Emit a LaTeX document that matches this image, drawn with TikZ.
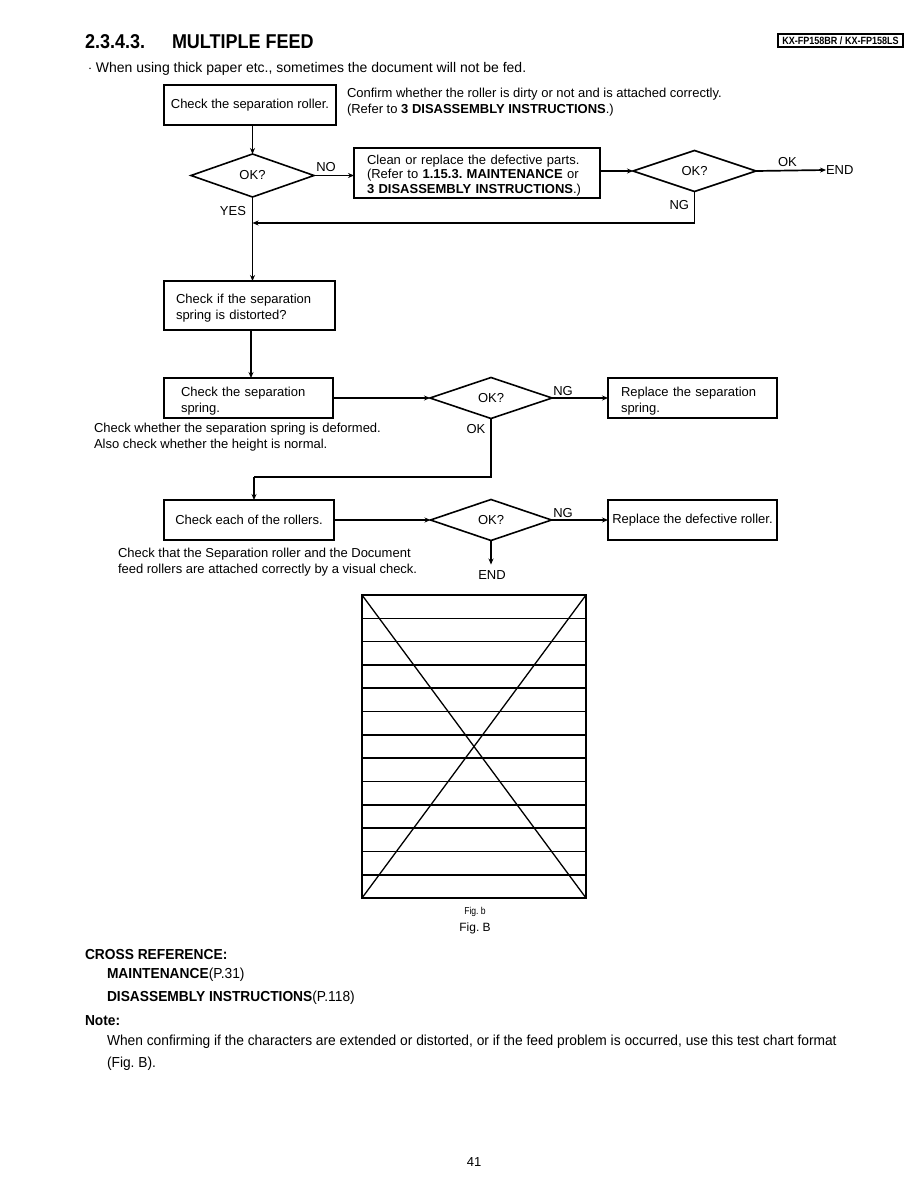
\documentclass[tikz,border=0pt]{standalone}
\usepackage{fontspec}
\setmainfont{Liberation Sans}
\newfontfamily\narrowfont{Liberation Sans}[FakeStretch=0.95]
\newfontfamily\titlefont{Liberation Sans}[FakeStretch=0.9]
\newfontfamily\hdrfont{Liberation Sans}[FakeStretch=0.86]
\usetikzlibrary{shapes.geometric,arrows.meta}
\begin{document}
\begin{tikzpicture}[x=1pt,y=-1pt,
  every node/.style={inner sep=0pt,outer sep=0pt,execute at begin node=\frenchspacing},
  txt/.style={font=\fontsize{13}{15.5}\selectfont,anchor=west,align=left},
  boxnode/.style={draw,line width=1.6pt,font=\fontsize{13}{15.5}\selectfont,align=left},
  dia/.style={draw,diamond,line width=1.6pt,inner sep=0pt,font=\fontsize{13}{15.5}\selectfont},
  conn/.style={line width=1.7pt},
  arr/.style={line width=1.7pt,-{Stealth[length=6pt,width=5pt]}},
  lab/.style={font=\fontsize{13}{15.5}\selectfont},
  btm/.style={font=\narrowfont\fontsize{14.5}{17}\selectfont,anchor=west}
]
\useasboundingbox[fill=white] (0,0) rectangle (918,1188);

% header
\node[draw,line width=1.3pt,font=\hdrfont\bfseries\fontsize{10.5}{11}\selectfont,minimum width=125pt,minimum height=13pt] (hdr) at (840.5,40.5) {KX-FP158BR / KX-FP158LS};
\node[anchor=base west,font=\titlefont\bfseries\fontsize{20}{22}\selectfont] (t1) at (85,49) {2.3.4.3.};
\node[anchor=base west,font=\titlefont\bfseries\fontsize{20}{22}\selectfont] (t2) at (172,49) {MULTIPLE FEED};
\node[txt,font=\fontsize{14}{16}\selectfont] (intro) at (88,69) {$\cdot$ When using thick paper etc., sometimes the document will not be fed.};

% row 1
\node[boxnode,minimum width=172pt,minimum height=40pt,align=center] (b1) at (250,105) {Check the separation roller.};
\node[txt] (n1) at (347,102) {Confirm whether the roller is dirty or not and is attached correctly.\\(Refer to \textbf{3 DISASSEMBLY INSTRUCTIONS}.)};

\node[dia,minimum width=123pt,minimum height=43pt] (d1) at (252.5,175.5) {OK?};
\node[boxnode,minimum width=246pt,minimum height=50pt,anchor=west,text width=220pt,font=\fontsize{13}{14.5}\selectfont] (b2) at (354,173) {\rule{0pt}{14pt}Clean or replace the defective parts.\\(Refer to \textbf{1.15.3. MAINTENANCE} or\\\textbf{3 DISASSEMBLY INSTRUCTIONS}.)};
\node[dia,minimum width=123pt,minimum height=41pt] (d2) at (694.5,171) {OK?};
\node[lab,anchor=west] (end1) at (826,170) {END};
\coordinate (j1) at (252.5,223);

\draw[arr] (b1.south -| d1.north) -- (d1.north);
\draw[arr] (d1.east) -- (b2.west |- d1.east) node[lab,pos=0.3,above=4pt] (lno) {NO};
\draw[arr] (b2.east |- d2.west) -- (d2.west);
\draw[arr] (d2.east) -- (end1.west) node[lab,pos=0.45,above=4pt] (lok1) {OK};
\draw[conn] (d2.south) -- (d2.south |- j1);
\draw[arr] (d2.south |- j1) -- (j1);
\node[lab,anchor=east] (lng1) at (689,205) {NG};
\node[lab,anchor=east] (lyes) at (246,211) {YES};

% row 2
\node[boxnode,minimum width=171pt,minimum height=49pt,anchor=north west,text width=147pt] (b3) at (164,281) {\rule{0pt}{15pt}Check if the separation\\spring is distorted?};
\draw[arr] (d1.south) -- (d1.south |- b3.north);

\node[boxnode,minimum width=169pt,minimum height=40pt,anchor=north west,text width=135pt] (b4) at (164,378) {\rule{0pt}{16pt}Check the separation\\spring.};
\draw[arr] (b3.south -| 251,0) -- (b4.north -| 251,0);
\node[txt] (n4) at (94,437) {Check whether the separation spring is deformed.\\Also check whether the height is normal.};

\node[dia,minimum width=122pt,minimum height=41pt] (d3) at (491,398) {OK?};
\node[boxnode,minimum width=169pt,minimum height=40pt,anchor=north west,text width=143pt] (b5) at (608,378) {\rule{0pt}{16pt}Replace the separation\\spring.};
\draw[arr] (b4.east) -- (d3.west);
\draw[arr] (d3.east) -- (b5.west |- d3.east);
\node[lab] (lng2) at (563,391) {NG};
\node[lab] (lok2) at (476,429) {OK};
\coordinate (j2) at (491,477);
\coordinate (j3) at (254,477);
\draw[conn] (d3.south) -- (j2) -- (j3);

% row 3
\node[boxnode,minimum width=170pt,minimum height=40pt,align=center] (b6) at (249,520) {Check each of the rollers.};
\draw[arr] (j3) -- (j3 |- b6.north);
\node[dia,minimum width=121pt,minimum height=41pt] (d4) at (491,520) {OK?};
\node[boxnode,minimum width=169pt,minimum height=40pt,align=center] (b7) at (692.5,520) {Replace the defective roller.};
\draw[arr] (b6.east) -- (d4.west);
\draw[arr] (d4.east) -- (b7.west);
\node[lab] (lng3) at (563,513) {NG};
\node[lab] (end2) at (492,575) {END};
\draw[arr] (d4.south) -- ([yshift=6pt]d4.south |- end2.north);
\node[txt] (n6) at (118,562) {Check that the Separation roller and the Document\\feed rollers are attached correctly by a visual check.};

% Fig b
\coordinate (fa) at (362,595);
\coordinate (fb) at (586,898);
\draw[line width=1.6pt] (fa) rectangle (fb);
\foreach \i in {1,...,12} {
  \draw[line width=1.6pt] (362,595+23.31*\i) -- (586,595+23.31*\i);
}
\draw[line width=1.3pt] (fa) -- (fb);
\draw[line width=1.3pt] (fa -| fb) -- (fa |- fb);
\node[font=\hdrfont\fontsize{10}{11}\selectfont] (figb) at (475,912) {Fig. b};
\node[font=\fontsize{12}{13}\selectfont] (figB) at (475,928) {Fig. B};

% bottom text
\node[btm,font=\narrowfont\bfseries\fontsize{14.5}{17}\selectfont] (cr) at (85,954) {CROSS REFERENCE:};
\node[btm] (cr1) at (107,975) {\bfseries MAINTENANCE\mdseries(P.31)};
\node[btm] (cr2) at (107,998) {\bfseries DISASSEMBLY INSTRUCTIONS\mdseries(P.118)};
\node[btm,font=\narrowfont\bfseries\fontsize{14.5}{17}\selectfont] (note) at (85,1021) {Note:};
\node[btm] (nt1) at (107,1042) {When confirming if the characters are extended or distorted, or if the feed problem is occurred, use this test chart format};
\node[btm] (nt2) at (107,1064) {(Fig. B).};
\node[font=\fontsize{13}{15}\selectfont] (pg) at (474,1162) {41};
\end{tikzpicture}
\end{document}
